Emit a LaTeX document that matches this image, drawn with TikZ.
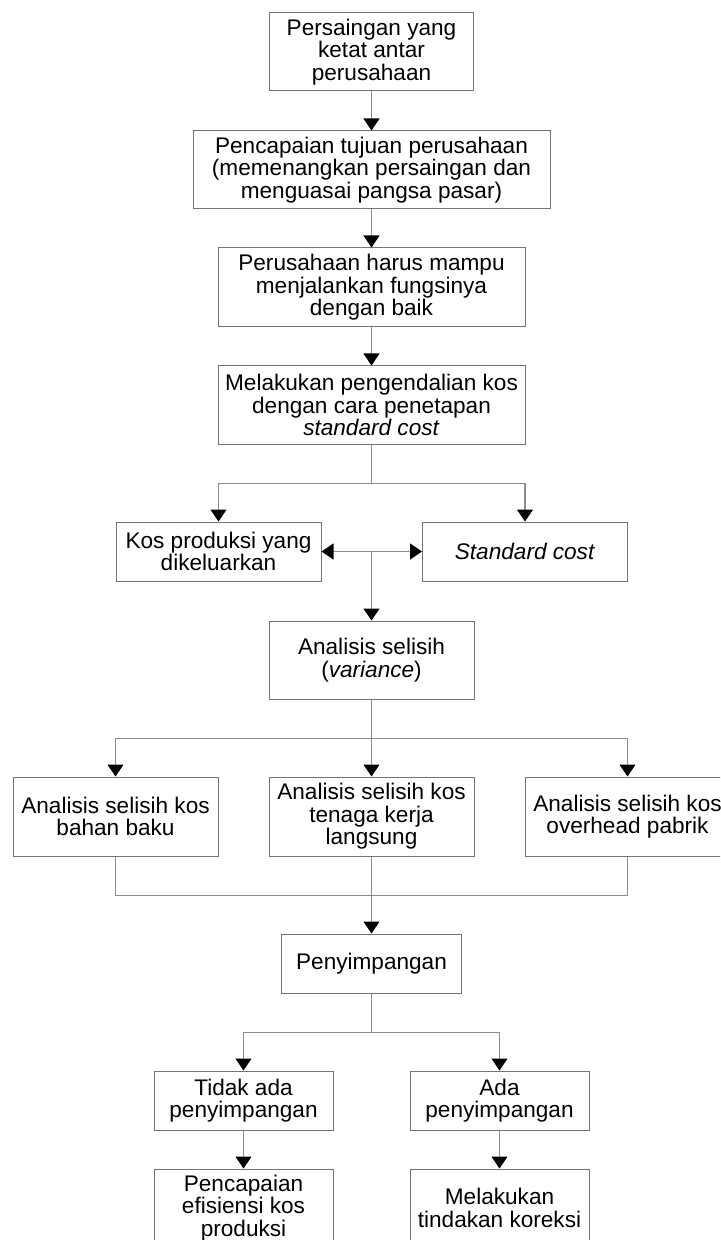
\documentclass[tikz,border=0pt]{standalone}
\usepackage{fontspec}
\setmainfont{Liberation Sans}
\usetikzlibrary{arrows.meta}
\begin{document}
\begin{tikzpicture}[x=0.5pt,y=-0.5pt,
  box/.style={draw=black!55, line width=0.5pt, inner sep=0pt, align=center,
    font=\fontsize{11.3}{11.3}\selectfont, fill=white},
  conn/.style={draw=black!45, line width=0.55pt,
    -{Triangle[width=8pt,length=6pt,color=black]}},
  plainline/.style={draw=black!45, line width=0.55pt},
  dbl/.style={draw=black!45, line width=0.55pt,
    {Triangle[width=8pt,length=6pt,color=black]}-{Triangle[width=8pt,length=6pt,color=black]}}
]
\useasboundingbox (0,0) rectangle (720,1240);
\clip (0,0) rectangle (720,1240);

\node[box, minimum width=102pt, minimum height=39pt] (b1) at (371.5,52)
  {Persaingan yang\\ketat antar\\perusahaan};
\node[box, minimum width=178.5pt, minimum height=39pt] (b2) at (371.5,170)
  {Pencapaian tujuan perusahaan\\(memenangkan persaingan dan\\menguasai pangsa pasar)};
\node[box, minimum width=153.5pt, minimum height=39.5pt] (b3) at (371.5,287.5)
  {Perusahaan harus mampu\\menjalankan fungsinya\\dengan baik};
\node[box, minimum width=153.5pt, minimum height=39pt] (b4) at (371.5,405)
  {Melakukan pengendalian kos\\dengan cara penetapan\\\textit{standard cost}};
\node[box, minimum width=102.5pt, minimum height=29.5pt] (b5) at (218.5,551.5)
  {Kos produksi yang\\dikeluarkan};
\node[box, minimum width=102.5pt, minimum height=29.5pt] (b6) at (525,551.5)
  {\textit{Standard cost}};
\node[box, minimum width=102.5pt, minimum height=39pt] (b7) at (371.5,660)
  {Analisis selisih\\(\textit{variance})};
\node[box, minimum width=102.5pt, minimum height=39.5pt] (b8) at (115.5,816.5)
  {Analisis selisih kos\\bahan baku};
\node[box, minimum width=102.5pt, minimum height=39.5pt] (b9) at (371.5,816.5)
  {Analisis selisih kos\\tenaga kerja\\langsung};
\node[box, minimum width=102.5pt, minimum height=39.5pt] (b10) at (627.5,816.5)
  {Analisis selisih kos\\overhead pabrik};
\node[box, minimum width=90pt, minimum height=29.5pt] (b11) at (371.5,963.5)
  {Penyimpangan};
\node[box, minimum width=89.5pt, minimum height=29.5pt] (b12) at (243.5,1100.5)
  {Tidak ada\\penyimpangan};
\node[box, minimum width=89.5pt, minimum height=29.5pt] (b13) at (499.5,1100.5)
  {Ada\\penyimpangan};
\node[box, minimum width=89.5pt, minimum height=39pt] (b14) at (243.5,1208)
  {Pencapaian\\efisiensi kos\\produksi};
\node[box, minimum width=89.5pt, minimum height=39pt] (b15) at (499.5,1208)
  {Melakukan\\tindakan koreksi};

\draw[conn] (b1.south) -- (b2.north);
\draw[conn] (b2.south) -- (b3.north);
\draw[conn] (b3.south) -- (b4.north);
\draw[conn] (b4.south) -- ++(0,39) -| (b5.north);
\draw[conn] (b4.south) -- ++(0,39) -| (b6.north);
\draw[dbl] (b5.east) -- (b6.west);
\coordinate (m) at (b7.north |- b5.east);
\draw[conn] (m) -- (b7.north);
\draw[conn] (b7.south) -- ++(0,39) -| (b8.north);
\draw[conn] (b7.south) -- (b9.north);
\draw[conn] (b7.south) -- ++(0,39) -| (b10.north);
\draw[plainline] (b8.south) -- ++(0,39) -| (b10.south);
\draw[conn] (b9.south) -- (b11.north);
\draw[conn] (b11.south) -- ++(0,39) -| (b12.north);
\draw[conn] (b11.south) -- ++(0,39) -| (b13.north);
\draw[conn] (b12.south) -- (b14.north);
\draw[conn] (b13.south) -- (b15.north);
\end{tikzpicture}
\end{document}
